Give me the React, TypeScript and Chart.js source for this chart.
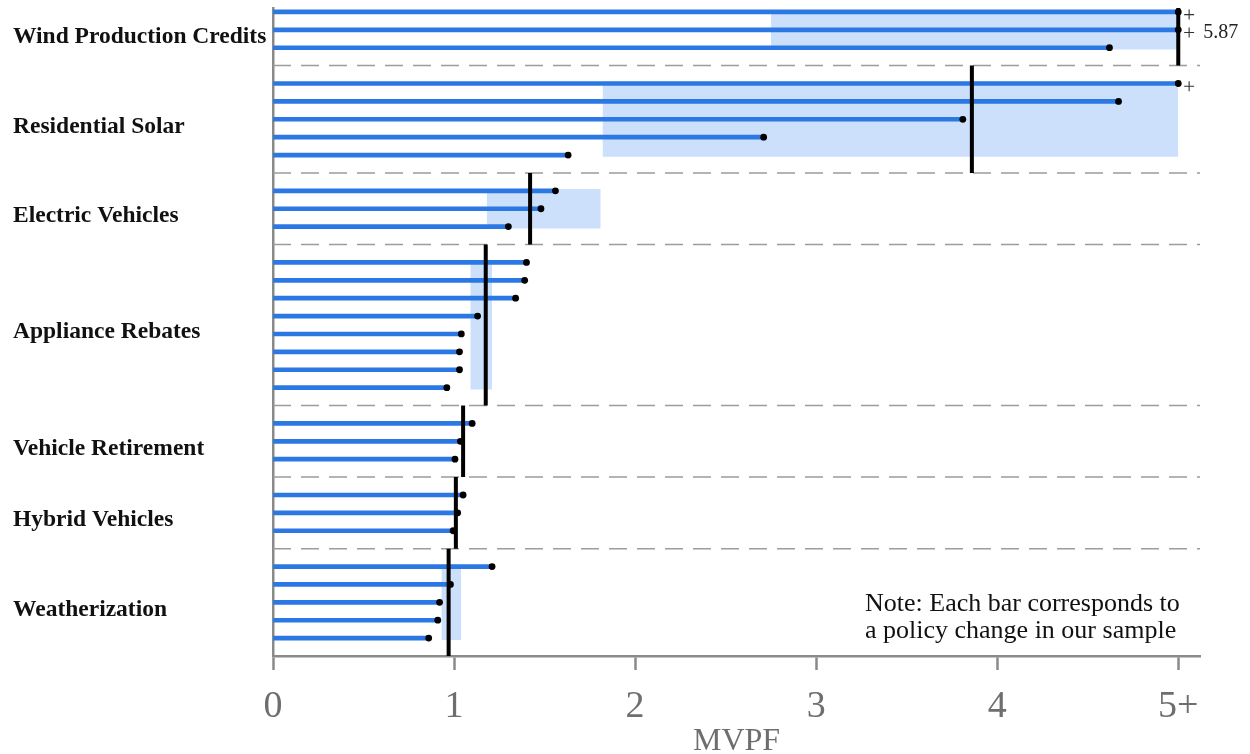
import React, { useEffect, useRef } from 'react';
import { Chart, registerables } from 'chart.js';

Chart.register(...registerables);

const groupNames = [
  'Wind Production Credits',
  'Residential Solar',
  'Electric Vehicles',
  'Appliance Rebates',
  'Vehicle Retirement',
  'Hybrid Vehicles',
  'Weatherization',
];

const windValues = [5.0, 5.0, 4.62];
const solarValues = [5.0, 4.67, 3.81, 2.71, 1.63];
const evValues = [1.56, 1.48, 1.3];
const applianceValues = [1.4, 1.39, 1.34, 1.13, 1.04, 1.03, 1.03, 0.96];
const retirementValues = [1.1, 1.035, 1.005];
const hybridValues = [1.05, 1.02, 0.995];
const weatherValues = [1.21, 0.98, 0.92, 0.91, 0.86];

const medianValues = [5.0, 3.86, 1.42, 1.175, 1.05, 1.01, 0.97];
const bandLow: (number | null)[] = [2.75, 1.82, 1.18, 1.09, null, null, 0.93];
const bandHigh: (number | null)[] = [5.0, 5.0, 1.81, 1.21, null, null, 1.04];

const xTickValues = [0, 1, 2, 3, 4, 5];
const xTickLabels = ['0', '1', '2', '3', '4', '5+'];
const xAxisTitle = 'MVPF';
const capValue = 5;
const cappedMedianLabel = '5.87';
const noteLines = ['Note: Each bar corresponds to', 'a policy change in our sample'];

const groupValues = [
  windValues,
  solarValues,
  evValues,
  applianceValues,
  retirementValues,
  hybridValues,
  weatherValues,
];

const FONT = '"Liberation Serif", "Times New Roman", serif';
const BLUE = '#2b78e4';
const BAND = 'rgba(204, 223, 251, 1)';
const GRAY = '#8a8a8a';
const TEXT_GRAY = '#6e6e6e';

export default function App() {
  const canvasRef = useRef<HTMLCanvasElement | null>(null);

  useEffect(() => {
    const canvas = canvasRef.current;
    if (!canvas) return;

    let slot = 0;
    const bars: { x: number; y: number; over: boolean }[] = [];
    const separators: number[] = [];
    const groupInfo: { first: number; last: number }[] = [];
    groupValues.forEach((vals, g) => {
      const first = slot;
      vals.forEach((v) => {
        bars.push({ x: Math.min(v, capValue), y: slot, over: v >= capValue });
        slot++;
      });
      groupInfo.push({ first, last: slot - 1 });
      if (g < groupValues.length - 1) {
        separators.push(slot);
        slot++;
      }
    });
    const yMin = -0.22;
    const yMax = 36.0;
    const xMax = 5.12;
    const labelShift = 0.4;

    const datasets: any[] = [];

    groupInfo.forEach((gi, g) => {
      const lo = bandLow[g];
      const hi = bandHigh[g];
      if (lo == null || hi == null) return;
      datasets.push({
        type: 'line',
        data: [
          { x: lo, y: gi.first - 0.1 },
          { x: hi, y: gi.first - 0.1 },
        ],
        borderWidth: 0,
        borderColor: 'rgba(0,0,0,0)',
        pointRadius: 0,
        fill: false,
        order: 10,
      });
      datasets.push({
        type: 'line',
        data: [
          { x: lo, y: gi.last + 0.1 },
          { x: hi, y: gi.last + 0.1 },
        ],
        borderWidth: 0,
        borderColor: 'rgba(0,0,0,0)',
        backgroundColor: BAND,
        pointRadius: 0,
        fill: '-1',
        order: 10,
      });
    });

    separators.forEach((s) => {
      datasets.push({
        type: 'line',
        data: [
          { x: 0, y: s },
          { x: xMax, y: s },
        ],
        borderColor: '#9c9c9c',
        borderWidth: 1.5,
        borderDash: [18, 10],
        pointRadius: 0,
        fill: false,
        order: 8,
      });
    });

    datasets.push({
      type: 'bar',
      indexAxis: 'y',
      data: bars.map((b) => ({ x: b.x, y: b.y })),
      backgroundColor: BLUE,
      barThickness: 4,
      order: 5,
    });

    groupInfo.forEach((gi, g) => {
      const top = g === 0 ? yMin : gi.first - 1;
      const bottom = g === groupInfo.length - 1 ? yMax : gi.last + 1;
      datasets.push({
        type: 'line',
        data: [
          { x: medianValues[g], y: top },
          { x: medianValues[g], y: bottom },
        ],
        borderColor: '#000',
        borderWidth: 4,
        borderCapStyle: 'butt',
        pointRadius: 0,
        fill: false,
        order: 3,
      });
    });

    datasets.push({
      type: 'line',
      showLine: false,
      data: bars.map((b) => ({ x: b.x, y: b.y })),
      pointRadius: 3.4,
      pointBackgroundColor: '#000',
      pointBorderColor: '#000',
      pointBorderWidth: 0,
      order: 1,
    });

    datasets.push({
      type: 'line',
      showLine: false,
      data: bars.filter((b) => b.over).map((b) => ({ x: capValue + 0.06, y: b.y + 0.15 })),
      pointStyle: 'cross',
      pointRadius: 5,
      pointBorderWidth: 1.1,
      pointBorderColor: '#333',
      clip: false,
      order: 1,
    });

    const textPlugin = {
      id: 'textPlugin',
      afterDraw(chart: any) {
        const { ctx, chartArea, scales } = chart;
        ctx.save();
        const g0 = groupInfo[0];
        const mx = scales.x.getPixelForValue(capValue);
        const my = scales.y.getPixelForValue((g0.first + g0.last) / 2 + 0.15);
        ctx.font = `20px ${FONT}`;
        ctx.fillStyle = '#222';
        ctx.textAlign = 'left';
        ctx.textBaseline = 'middle';
        ctx.fillText(cappedMedianLabel, mx + 25, my);
        ctx.font = `26px ${FONT}`;
        ctx.fillStyle = '#111';
        const nx = chartArea.right - 335;
        const lastG = groupInfo[groupInfo.length - 1];
        const ny = scales.y.getPixelForValue(lastG.first + 2.1);
        noteLines.forEach((line, i) => {
          ctx.fillText(line, nx, ny + i * 27);
        });
        ctx.restore();
      },
    };

    const chart = new Chart(canvas, {
      type: 'line',
      data: { datasets },
      options: {
        responsive: false,
        animation: false,
        devicePixelRatio: 1,
        layout: { padding: { left: 13, top: 8, right: 50, bottom: 0 } },
        plugins: {
          legend: { display: false },
          tooltip: { enabled: false },
        },
        scales: {
          x: {
            type: 'linear',
            min: 0,
            max: xMax,
            offset: false,
            afterBuildTicks: (s: any) => {
              s.ticks = xTickValues.map((v) => ({ value: v }));
            },
            afterFit: (s: any) => {
              s.height = 98;
              s.paddingLeft = 0;
              s.paddingRight = 0;
            },
            ticks: {
              callback: (_v: any, i: number) => xTickLabels[i],
              font: { family: FONT, size: 38 },
              color: TEXT_GRAY,
              padding: 14,
              autoSkip: false,
              maxRotation: 0,
            },
            grid: {
              offset: false,
              drawOnChartArea: false,
              drawTicks: true,
              tickLength: 14,
              tickWidth: 2.5,
              tickColor: GRAY,
            },
            border: { color: GRAY, width: 2.5 },
            title: {
              display: true,
              text: xAxisTitle,
              font: { family: FONT, size: 32, lineHeight: 1 },
              color: TEXT_GRAY,
              padding: { top: 0, bottom: -4 },
            },
          },
          y: {
            type: 'linear',
            reverse: true,
            min: yMin,
            max: yMax,
            offset: false,
            afterBuildTicks: (s: any) => {
              s.ticks = groupInfo.map((gi) => ({ value: (gi.first + gi.last) / 2 + labelShift }));
            },
            afterFit: (s: any) => {
              s.width = 260;
              s.paddingTop = 0;
              s.paddingBottom = 0;
            },
            ticks: {
              callback: (_v: any, i: number) => groupNames[i],
              crossAlign: 'far',
              font: { family: FONT, size: 23.5, weight: 'bold' },
              color: '#111',
              autoSkip: false,
              padding: 0,
            },
            grid: { display: false, drawTicks: false, offset: false },
            border: { color: GRAY, width: 2.5 },
          },
        },
      },
      plugins: [textPlugin],
    } as any);

    return () => chart.destroy();
  }, []);

  return (
    <div style={{ position: 'fixed', left: 0, top: 0, width: 1250, height: 754, background: '#fff' }}>
      <canvas ref={canvasRef} width={1250} height={754} style={{ display: 'block' }} />
    </div>
  );
}
